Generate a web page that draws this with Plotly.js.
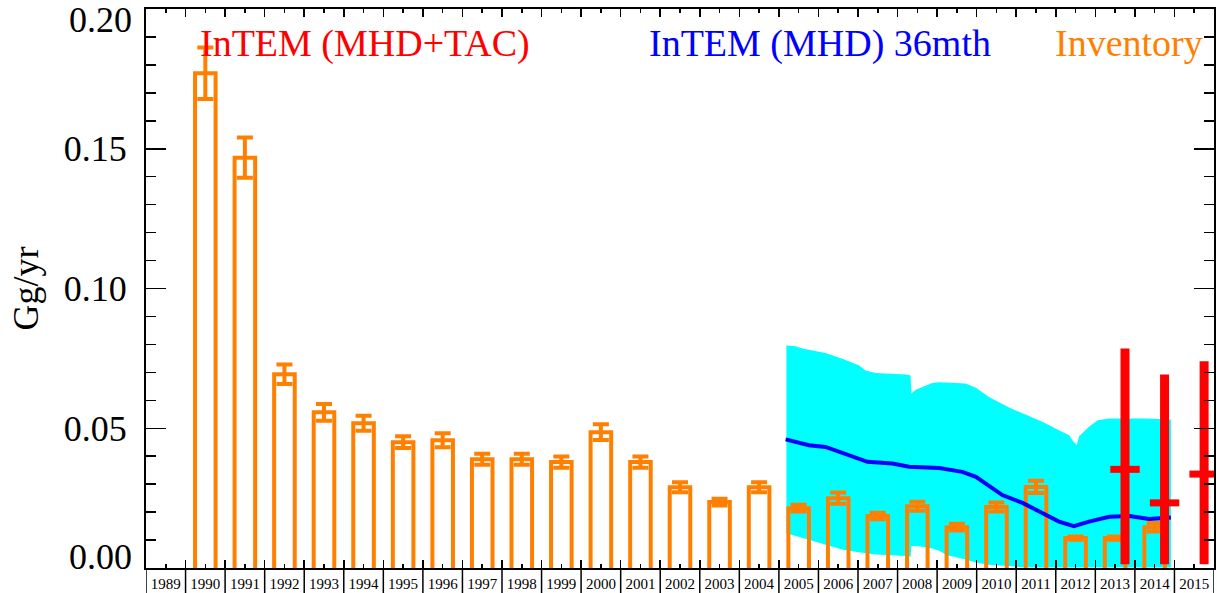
<!DOCTYPE html>
<html>
<head>
<meta charset="utf-8">
<script src="https://cdn.plot.ly/plotly-3.0.1.min.js"></script>
<style>
html,body{margin:0;padding:0;background:#fff;}
#chart{width:1217px;height:593px;}
</style>
</head>
<body>
<div id="chart"></div>
<script>
// ---- Data ----
const invYears = [1990,1991,1992,1993,1994,1995,1996,1997,1998,1999,2000,2001,2002,2003,2004,2005,2006,2007,2008,2009,2010,2011,2012,2013,2014];
const invValues = [0.1770,0.1468,0.0693,0.0557,0.0518,0.0450,0.0457,0.0389,0.0389,0.0379,0.0486,0.0379,0.0289,0.0236,0.0289,0.0214,0.0250,0.0186,0.0221,0.0146,0.0218,0.0290,0.0107,0.0107,0.0146];
const invErrors = [0.0092,0.0072,0.0035,0.0030,0.0027,0.0021,0.0025,0.0020,0.0020,0.0020,0.0028,0.0020,0.0018,0.0012,0.0018,0.0012,0.0020,0.0012,0.0016,0.0012,0.0016,0.0022,0.0006,0.0006,0.0015];

const tickYears = [1989,1990,1991,1992,1993,1994,1995,1996,1997,1998,1999,2000,2001,2002,2003,2004,2005,2006,2007,2008,2009,2010,2011,2012,2013,2014,2015];
const tickLabels = ['1989','1990','1991','1992','1993','1994','1995','1996','1997','1998','1999','2000','2001','2002','2003','2004','2005','2006','2007','2008','2009','2010','2011','2012','2013','2014','2015'];

const yTickVals = [0.05, 0.10, 0.15];
const yTickText = ['0.05', '0.10', '0.15'];

// InTEM (MHD) 36mth uncertainty band
const bandX = [2005.19,2005.42,2005.59,2006.18,2006.60,2007.02,2007.19,2007.45,2008.21,2008.33,2008.35,2008.46,2008.63,2008.88,2009.05,2009.26,2009.72,2009.98,2010.31,2010.82,2011.16,2011.66,2012.08,2012.34,2012.42,2012.53,2012.59,2012.84,2013.06,2013.35,2014.28,2014.91];
const bandHigh = [0.0796,0.0793,0.0785,0.0769,0.0749,0.0725,0.0707,0.0698,0.0692,0.0689,0.0624,0.0638,0.0648,0.0662,0.0665,0.0663,0.0660,0.0645,0.0612,0.0574,0.0553,0.0523,0.0493,0.0475,0.0457,0.0439,0.0471,0.0505,0.0529,0.0535,0.0535,0.0531];
const bandLow = [0.0124,0.0115,0.0108,0.0085,0.0066,0.0056,0.0052,0.0048,0.0043,0.0040,0.0079,0.0079,0.0076,0.0070,0.0062,0.0046,0.0030,0.0020,0.0012,0.0005,0.0003,0.0002,0.0002,0.0002,0.0002,0.0002,0.0002,0.0002,0.0002,0.0002,0.0002,0.0002];

// InTEM (MHD) 36mth central estimate
const mhdX = [2005.17,2005.42,2005.76,2006.18,2006.60,2006.94,2007.24,2007.87,2008.29,2009.05,2009.64,2009.98,2010.31,2010.65,2011.16,2011.66,2012.08,2012.46,2012.84,2013.35,2013.86,2014.36,2014.91];
const mhdY = [0.0460,0.0451,0.0439,0.0433,0.0412,0.0395,0.0380,0.0374,0.0362,0.0358,0.0344,0.0326,0.0296,0.0261,0.0233,0.0198,0.0166,0.0150,0.0166,0.0183,0.0186,0.0175,0.0181];

// InTEM (MHD+TAC)
const tacYears = [2013, 2014, 2015];
const tacMid = [0.0353, 0.0233, 0.0336];
const tacHigh = [0.0785, 0.0692, 0.0740];
const tacLow = [0.0013, 0.0013, 0.0013];

// ---- Styling constants ----
const FONT = 'Liberation Serif, Times New Roman, serif';
const ORANGE = '#ff8000';
const BAR_OFFSET = 0.5;
const TAC_OFFSET = 0.75;
const BASE_PAD = 0.002;

const boundaries = tickYears.concat([tickYears[tickYears.length - 1] + 1]);

const traces = [
  {
    x: bandX, y: bandLow, type: 'scatter', mode: 'lines',
    line: {width: 0, color: 'rgba(0,0,0,0)'}, hoverinfo: 'skip',
    xaxis: 'x', yaxis: 'y'
  },
  {
    x: bandX, y: bandHigh, type: 'scatter', mode: 'lines', fill: 'tonexty',
    fillcolor: '#00ffff', line: {width: 0, color: '#00ffff'},
    xaxis: 'x', yaxis: 'y'
  },
  {
    x: invYears.map(y => y + BAR_OFFSET),
    y: invValues.map(v => v + BASE_PAD),
    base: -BASE_PAD,
    type: 'bar', width: 0.52,
    marker: {color: 'rgba(0,0,0,0)', line: {color: ORANGE, width: 4}},
    error_y: {type: 'data', array: invErrors, visible: true, color: ORANGE, thickness: 4, width: 8},
    xaxis: 'x', yaxis: 'y2'
  },
  {
    x: mhdX, y: mhdY, type: 'scatter', mode: 'lines',
    line: {color: '#0000ff', width: 4},
    xaxis: 'x', yaxis: 'y2'
  },
  {
    x: tacYears.map(y => y + TAC_OFFSET), y: tacMid, type: 'scatter', mode: 'markers',
    marker: {symbol: 'line-ew', size: 21, color: '#ff0000', line: {color: '#ff0000', width: 7}},
    error_y: {
      type: 'data', symmetric: false,
      array: tacHigh.map((h, i) => h - tacMid[i]),
      arrayminus: tacLow.map((l, i) => tacMid[i] - l),
      color: '#ff0000', thickness: 9, width: 0, visible: true
    },
    xaxis: 'x', yaxis: 'y2'
  }
];

const shapes = boundaries.map(b => ({
  type: 'line', xref: 'x', yref: 'paper', x0: b, x1: b, y0: 0, y1: -0.06,
  line: {color: '#000', width: 1.5}
}));

const layout = {
  width: 1217, height: 593,
  margin: {l: 146, r: 3, t: 9, b: 25},
  paper_bgcolor: '#fff', plot_bgcolor: '#fff',
  showlegend: false,
  font: {family: FONT, color: '#000'},
  xaxis: {
    range: [1989, 2016], showgrid: false, zeroline: false,
    showline: true, linecolor: '#000', linewidth: 2, mirror: 'ticks',
    tickmode: 'array', tickvals: tickYears.map(y => y + 0.5), ticktext: tickLabels,
    ticks: 'inside', ticklen: 4, tickwidth: 1.5, tickcolor: '#000',
    minor: {tickmode: 'array', tickvals: boundaries, ticks: 'inside', ticklen: 8, tickwidth: 1.5, tickcolor: '#000'},
    tickfont: {family: FONT, size: 15, color: '#000'},
    ticklabelstandoff: 1
  },
  yaxis: {
    range: [0, 0.2], showgrid: false, zeroline: false,
    showline: true, linecolor: '#000', linewidth: 2, mirror: 'ticks',
    tickmode: 'array', tickvals: yTickVals, ticktext: yTickText,
    ticks: 'inside', ticklen: 20, tickwidth: 1.5, tickcolor: '#000',
    minor: {dtick: 0.01, tick0: 0, ticks: 'inside', ticklen: 10, tickwidth: 1.5, tickcolor: '#000'},
    tickfont: {family: FONT, size: 36, color: '#000'},
    ticklabelstandoff: 10,
    title: {text: 'Gg/yr', font: {family: FONT, size: 36, color: '#000'}, standoff: 14}
  },
  yaxis2: {
    range: [0, 0.2], overlaying: 'y', visible: false, showgrid: false, zeroline: false
  },
  shapes: shapes,
  annotations: [
    {text: '0.20', xref: 'paper', yref: 'y', x: 0, y: 0.2, xanchor: 'right', yanchor: 'middle',
     xshift: -12, yshift: -11, showarrow: false, font: {family: FONT, size: 36, color: '#000'}},
    {text: '0.00', xref: 'paper', yref: 'y', x: 0, y: 0, xanchor: 'right', yanchor: 'middle',
     xshift: -12, yshift: 11, showarrow: false, font: {family: FONT, size: 36, color: '#000'}},
    {text: 'InTEM (MHD+TAC)', xref: 'paper', yref: 'paper', x: 0.205, y: 0.939, xanchor: 'center', yanchor: 'middle',
     showarrow: false, font: {family: FONT, size: 38, color: '#ff0000'}},
    {text: 'InTEM (MHD) 36mth', xref: 'paper', yref: 'paper', x: 0.631, y: 0.939, xanchor: 'center', yanchor: 'middle',
     showarrow: false, font: {family: FONT, size: 38, color: '#0000ff'}},
    {text: 'Inventory', xref: 'paper', yref: 'paper', x: 0.920, y: 0.939, xanchor: 'center', yanchor: 'middle',
     showarrow: false, font: {family: FONT, size: 38, color: ORANGE}}
  ]
};

Plotly.newPlot('chart', traces, layout, {displayModeBar: false, staticPlot: true});
</script>
</body>
</html>
